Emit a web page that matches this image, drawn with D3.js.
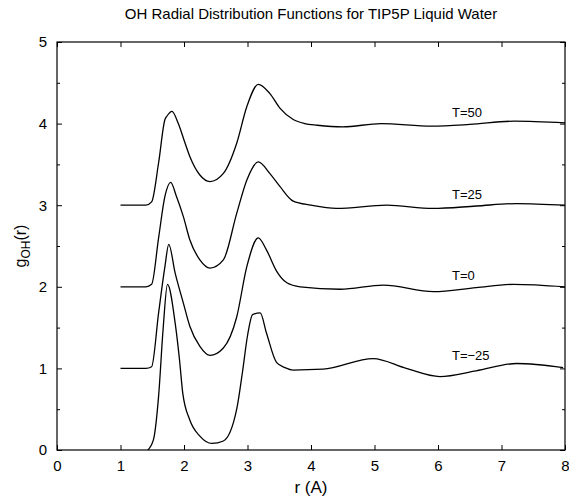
<!DOCTYPE html>
<html>
<head>
<meta charset="utf-8">
<script src="https://cdn.jsdelivr.net/npm/d3@7"></script>
<style>
  body { margin: 0; background: #fff; }
  text { font-family: "Liberation Sans", Arial, Helvetica, sans-serif; fill: #000; }
</style>
</head>
<body>
<svg id="chart" width="569" height="498"></svg>
<script>
// ---- data ----
const labels = ["T=50", "T=25", "T=0", "T=\u221225"];
const offsets = [3, 2, 1, 0];

const r50 = [1.0, 1.4, 1.49, 1.6, 1.7, 1.73, 1.81, 1.91, 2.0, 2.09, 2.25, 2.41, 2.62, 2.83, 2.99, 3.17, 3.35, 3.51, 3.72, 3.9, 4.1, 4.5, 5.1, 5.9, 6.5, 7.2, 8.0];
const g50 = [0.0, 0.0, 0.04, 0.52, 1.05, 1.09, 1.15, 1.0, 0.8, 0.6, 0.37, 0.29, 0.39, 0.76, 1.21, 1.48, 1.37, 1.19, 1.05, 1.0, 0.98, 0.96, 1.0, 0.97, 0.99, 1.03, 1.01];

const r25 = [1.0, 1.4, 1.49, 1.6, 1.7, 1.79, 1.88, 1.99, 2.09, 2.25, 2.41, 2.62, 2.83, 2.99, 3.17, 3.35, 3.51, 3.72, 4.0, 4.4, 5.19, 5.92, 6.6, 7.24, 8.0];
const g25 = [0.0, 0.0, 0.03, 0.6, 1.11, 1.28, 1.11, 0.86, 0.58, 0.33, 0.23, 0.33, 0.9, 1.31, 1.53, 1.39, 1.23, 1.05, 1.0, 0.96, 1.0, 0.96, 0.99, 1.02, 1.0];

const r0 = [1.0, 1.4, 1.49, 1.6, 1.7, 1.76, 1.86, 1.99, 2.09, 2.25, 2.41, 2.62, 2.83, 2.99, 3.17, 3.3, 3.46, 3.62, 3.83, 4.46, 5.14, 5.93, 6.6, 7.19, 8.0];
const g0 = [0.0, 0.0, 0.02, 0.68, 1.25, 1.52, 1.17, 0.8, 0.52, 0.27, 0.16, 0.25, 0.63, 1.25, 1.6, 1.45, 1.19, 1.05, 1.0, 0.97, 1.02, 0.94, 0.99, 1.03, 1.0];

const rm25 = [1.43, 1.52, 1.6, 1.67, 1.74, 1.86, 1.93, 1.98, 2.09, 2.25, 2.44, 2.62, 2.83, 2.92, 3.0, 3.08, 3.2, 3.3, 3.46, 3.59, 3.72, 4.19, 4.98, 5.5, 6.03, 6.6, 7.24, 7.97];
const gm25 = [0.0, 0.13, 0.66, 1.47, 2.03, 1.56, 1.1, 0.7, 0.37, 0.17, 0.08, 0.11, 0.5, 0.95, 1.4, 1.66, 1.68, 1.43, 1.07, 1.01, 0.98, 0.99, 1.12, 1.0, 0.90, 0.97, 1.06, 1.01];

const rSeries = [r50, r25, r0, rm25];
const gSeries = [g50, g25, g0, gm25];
const labelPos = [[6.22, 4.08], [6.22, 3.08], [6.22, 2.08], [6.22, 1.1]]; // label anchor in data units

const xTicks = [0, 1, 2, 3, 4, 5, 6, 7, 8];
const yTicks = [0, 1, 2, 3, 4, 5];
const yMinorTicks = [0.5, 1.5, 2.5, 3.5, 4.5];

// ---- layout ----
const W = 569, H = 498;
const m = { left: 57, right: 4, top: 42, bottom: 48 };
const svg = d3.select("#chart");
const x = d3.scaleLinear().domain([0, 8]).range([m.left, W - m.right]);
const y = d3.scaleLinear().domain([0, 5]).range([H - m.bottom, m.top]);

// frame
svg.append("rect")
  .attr("x", x(0)).attr("y", y(5))
  .attr("width", x(8) - x(0)).attr("height", y(0) - y(5))
  .attr("fill", "none").attr("stroke", "#000").attr("stroke-width", 1.2);

// axes with inward ticks
const axB = svg.append("g").attr("transform", `translate(0,${y(0)})`)
  .call(d3.axisBottom(x).tickValues(xTicks).tickSize(-5).tickPadding(10).tickFormat(d3.format("d")));
const axT = svg.append("g").attr("transform", `translate(0,${y(5)})`)
  .call(d3.axisTop(x).tickValues(xTicks).tickSize(-5).tickFormat(""));
const axL = svg.append("g").attr("transform", `translate(${x(0)},0)`)
  .call(d3.axisLeft(y).tickValues(yTicks).tickSize(-5).tickPadding(10).tickFormat(d3.format("d")));
const axR = svg.append("g").attr("transform", `translate(${x(8)},0)`)
  .call(d3.axisRight(y).tickValues(yTicks).tickSize(-5).tickFormat(""));
const axLm = svg.append("g").attr("transform", `translate(${x(0)},0)`)
  .call(d3.axisLeft(y).tickValues(yMinorTicks).tickSize(-3).tickFormat(""));
const axRm = svg.append("g").attr("transform", `translate(${x(8)},0)`)
  .call(d3.axisRight(y).tickValues(yMinorTicks).tickSize(-3).tickFormat(""));

[axB, axT, axL, axR, axLm, axRm].forEach(a => {
  a.select(".domain").remove();
  a.selectAll(".tick line").attr("stroke", "#000").attr("stroke-width", 1);
  a.selectAll("text").attr("font-size", 15).attr("font-family", "Liberation Sans, Arial, sans-serif").attr("fill", "#000");
});

// curves
const line = d3.line()
  .x(d => x(d[0]))
  .y(d => y(d[1]))
  .curve(d3.curveMonotoneX);

rSeries.forEach((rs, i) => {
  const pts = rs.map((rv, j) => [rv, gSeries[i][j] + offsets[i]]);
  svg.append("path")
    .datum(pts)
    .attr("d", line)
    .attr("fill", "none")
    .attr("stroke", "#000")
    .attr("stroke-width", 1.3);
  svg.append("text")
    .attr("x", x(labelPos[i][0]))
    .attr("y", y(labelPos[i][1]))
    .attr("font-size", 13)
    .text(labels[i]);
});

// title
svg.append("text")
  .attr("x", (x(0) + x(8)) / 2).attr("y", 19)
  .attr("text-anchor", "middle").attr("font-size", 15)
  .text("OH Radial Distribution Functions for TIP5P Liquid Water");

// x label
svg.append("text")
  .attr("x", (x(0) + x(8)) / 2).attr("y", 493)
  .attr("text-anchor", "middle").attr("font-size", 17)
  .text("r (A)");

// y label
const yl = svg.append("text")
  .attr("transform", `translate(26,${(y(0) + y(5)) / 2}) rotate(-90)`)
  .attr("text-anchor", "middle").attr("font-size", 16);
yl.append("tspan").text("g");
yl.append("tspan").attr("font-size", 12).attr("dy", 4).text("OH");
yl.append("tspan").attr("dy", -4).text("(r)");
</script>
</body>
</html>
